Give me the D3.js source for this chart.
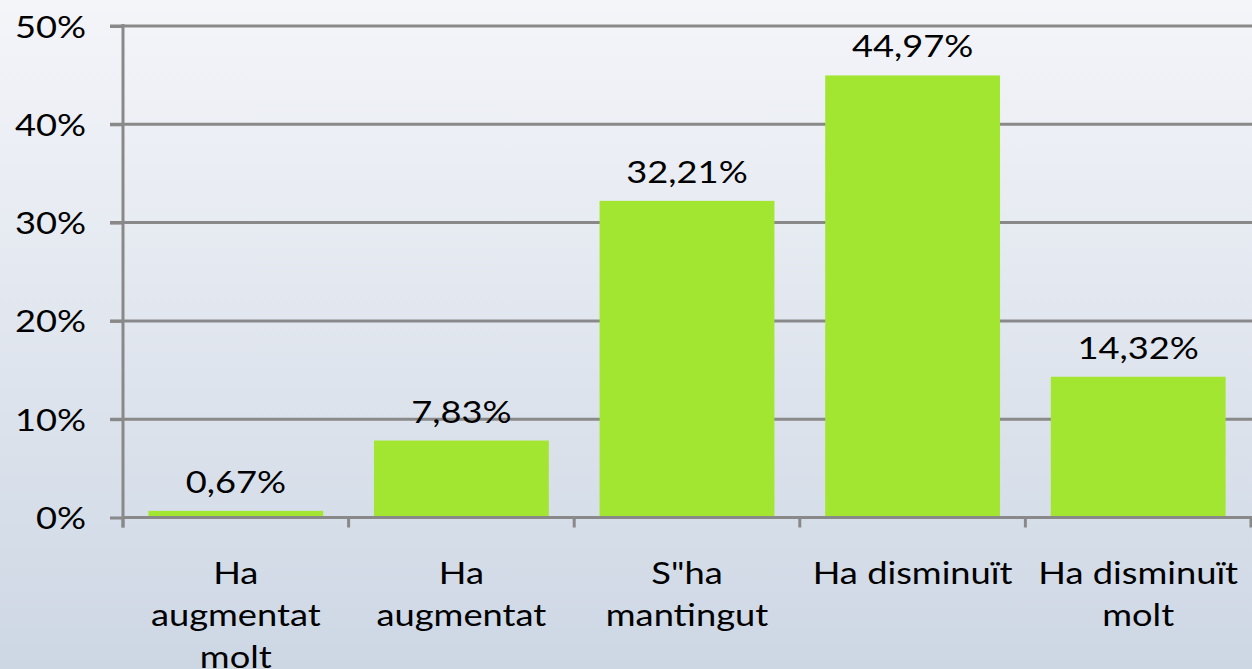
<!DOCTYPE html>
<html><head><meta charset="utf-8">
<script src="https://cdn.jsdelivr.net/npm/d3@7/dist/d3.min.js"></script>
<style>html,body{margin:0;padding:0;overflow:hidden}svg{display:block}</style>
</head><body>
<svg id="c" width="1252" height="669"></svg>
<script>
const categories = ["Ha augmentat molt","Ha augmentat","S\"ha mantingut","Ha disminuït","Ha disminuït molt"];
const categoryLines = [["Ha","augmentat","molt"],["Ha","augmentat"],["S\"ha","mantingut"],["Ha disminuït"],["Ha disminuït","molt"]];
const values = [0.67, 7.83, 32.21, 44.97, 14.32];
const valueLabels = ["0,67%","7,83%","32,21%","44,97%","14,32%"];
const yTicks = [0,10,20,30,40,50];

(function(){
const W=1252,H=669;
const svg=d3.select("#c");
const defs=svg.append("defs");
const g=defs.append("linearGradient").attr("id","bg").attr("x1",0).attr("y1",0).attr("x2",0).attr("y2",1);
g.append("stop").attr("offset","0%").attr("stop-color","#f4f5f9");
g.append("stop").attr("offset","100%").attr("stop-color","#cdd7e4");
svg.append("rect").attr("width",W).attr("height",H).attr("fill","url(#bg)");

const pL=123,pR=1251,pT=26,pB=517.5;
const x=d3.scaleBand().domain(categories).range([pL,pR]).paddingInner(0.225).paddingOuter(0.1125);
const y=d3.scaleLinear().domain([0,50]).range([pB,pT]);
const font="Lato, 'Open Sans', sans-serif";
const fs=31, sx=1.17, fw=400;

// gridlines
svg.append("g").selectAll("line").data(yTicks.filter(d=>d>0)).join("line")
 .attr("x1",pL-13).attr("x2",W).attr("y1",d=>y(d)).attr("y2",d=>y(d))
 .attr("stroke","#898989").attr("stroke-width",3);

// bars
svg.append("g").selectAll("rect").data(values).join("rect")
 .attr("x",(d,i)=>x(categories[i])).attr("width",x.bandwidth())
 .attr("y",d=>y(d)).attr("height",d=>y(0)-y(d)).attr("fill","#a2e632");

// y axis
const ya=svg.append("g").attr("transform",`translate(${pL},0)`).call(d3.axisLeft(y).tickValues(yTicks).tickSize(13).tickFormat(d=>d+"%"));
ya.select(".domain").remove();
ya.selectAll(".tick line").attr("stroke","#898989").attr("stroke-width",3);
ya.selectAll(".tick text").remove();
svg.append("line").attr("x1",pL).attr("x2",pL).attr("y1",pT-2).attr("y2",pB+10).attr("stroke","#898989").attr("stroke-width",3);
svg.append("g").selectAll("text").data(yTicks).join("text")
 .attr("transform",d=>`translate(86,${y(d)+11.5}) scale(${sx},1)`)
 .attr("text-anchor","end").attr("font-family",font).attr("font-weight",fw).attr("font-size",fs).attr("fill","#000")
 .text(d=>d+"%");

// x axis
const xa=svg.append("g").attr("transform",`translate(0,${pB})`).call(d3.axisBottom(x).tickSize(0).tickFormat(""));
xa.select(".domain").attr("stroke","#898989").attr("stroke-width",3).attr("d",`M${pL},0H${W}`);
const bounds=categories.map((c,i)=>x(c)-x.step()*x.paddingInner()/2).concat([pR]);
svg.append("g").selectAll("line").data(bounds).join("line")
 .attr("x1",d=>d).attr("x2",d=>d).attr("y1",pB).attr("y2",pB+10)
 .attr("stroke","#898989").attr("stroke-width",3);

// category labels
categories.forEach((c,i)=>{
  const cx=x(c)+x.bandwidth()/2;
  categoryLines[i].forEach((ln,j)=>{
    svg.append("text").attr("transform",`translate(${cx},${584+j*42}) scale(${sx},1)`)
      .attr("text-anchor","middle").attr("font-family",font).attr("font-weight",fw).attr("font-size",fs).attr("fill","#000").text(ln);
  });
});

// value labels
svg.append("g").selectAll("text").data(values).join("text")
 .attr("transform",(d,i)=>`translate(${x(categories[i])+x.bandwidth()/2},${y(d)-18}) scale(${sx},1)`)
 .attr("text-anchor","middle").attr("font-family",font).attr("font-weight",fw).attr("font-size",fs).attr("fill","#000")
 .text((d,i)=>valueLabels[i]);
})();
</script>
</body></html>
